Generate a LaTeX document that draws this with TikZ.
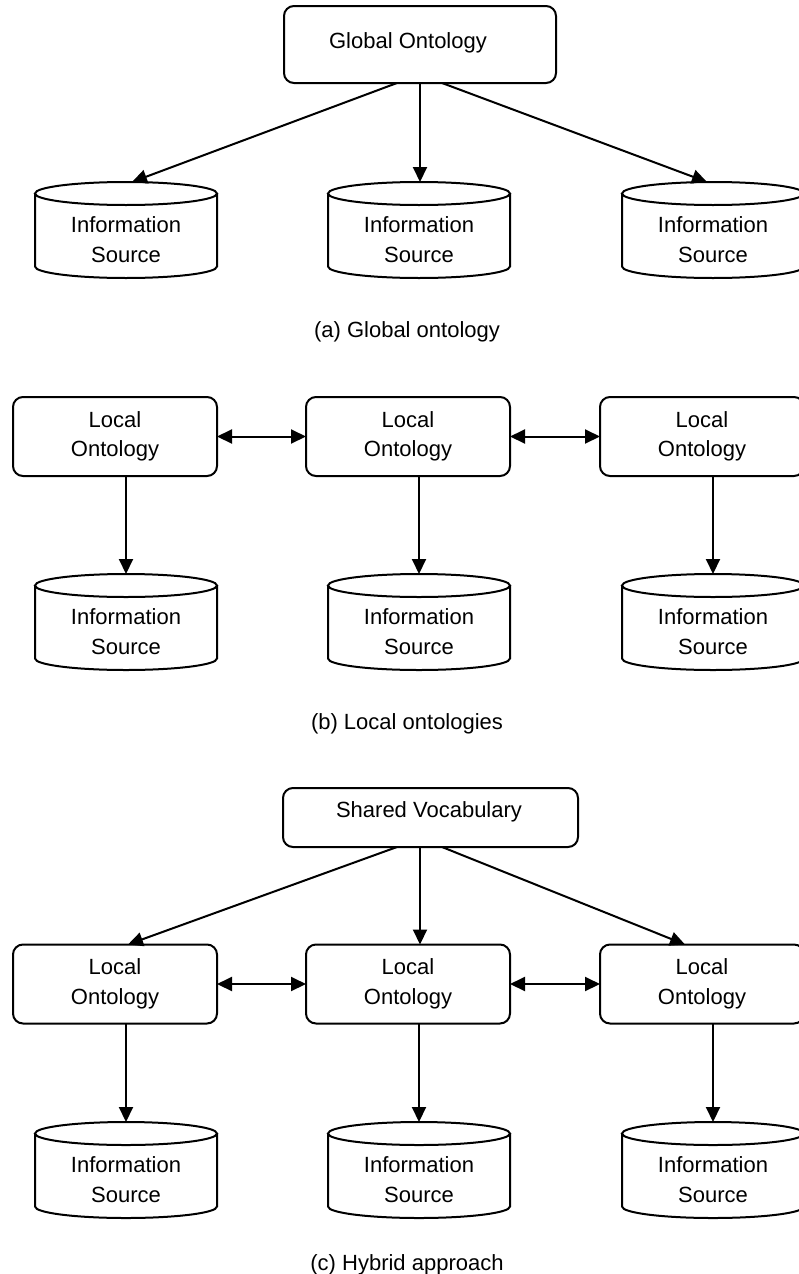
\documentclass[tikz,border=0pt]{standalone}
\usepackage{fontspec}
\setmainfont{Liberation Sans}
\usetikzlibrary{arrows.meta,calc}

% Information source drawn as a cylinder: #1 name, #2 centre x, #3 top y
\newcommand\infosource[3]{%
  \node[srcbox] (#1) at (#2,#3+48) {};
  \node[srctext] (#1t) at (#2,#3+57.5) {Information\\Source};
  \draw[outline] (#2-91,#3+11.5) -- (#2-91,#3+84.5)
    arc[start angle=180,end angle=0,x radius=91,y radius=11.5]
    -- (#2+91,#3+11.5);
  \draw[outline] (#2,#3+11.5) ellipse[x radius=91,y radius=11.5];
}

\begin{document}
\begin{tikzpicture}[x=1pt,y=-1pt,
  every node/.style={font=\fontsize{22}{29.5}\selectfont, inner sep=0pt, outer sep=0pt},
  outline/.style={line width=2pt},
  obox/.style={draw, line width=2pt, rounded corners=10pt, align=center},
  localbox/.style={obox, minimum width=204pt, minimum height=79pt},
  srcbox/.style={minimum width=182pt, minimum height=96pt},
  srctext/.style={align=center},
  arr/.style={line width=2pt, -{Triangle[length=15pt,width=14pt]}},
  darr/.style={line width=2pt, {Triangle[length=15pt,width=14pt]}-{Triangle[length=15pt,width=14pt]}},
]
\useasboundingbox (0,0) rectangle (799,1274);
\clip (0,0) rectangle (799,1274);

% ---------------- (a) Global ontology ----------------
\node[obox, minimum width=272pt, minimum height=77pt] (go) at (420,44.5) {};
\node (got) at (408,43) {Global Ontology};
\infosource{a1}{126}{182}
\infosource{a2}{419}{182}
\infosource{a3}{713}{182}
\draw[arr] ($(go.south)+(-23,0)$) -- ($(a1.north)+(6,0)$);
\draw[arr] (go.south) -- (go.south |- a2.north);
\draw[arr] ($(go.south)+(22,0)$) -- ($(a3.north)+(-6,0)$);
\node (capa) at (407,332) {(a) Global ontology};

% ---------------- (b) Local ontologies ----------------
\node[localbox] (lb1) at (115,436.5) {Local\\Ontology};
\node[localbox] (lb2) at (408,436.5) {Local\\Ontology};
\node[localbox] (lb3) at (702,436.5) {Local\\Ontology};
\draw[darr] (lb1.east) -- (lb2.west);
\draw[darr] (lb2.east) -- (lb3.west);
\infosource{b1}{126}{574}
\infosource{b2}{419}{574}
\infosource{b3}{713}{574}
\draw[arr] (lb1.south -| b1.north) -- (b1.north);
\draw[arr] (lb2.south -| b2.north) -- (b2.north);
\draw[arr] (lb3.south -| b3.north) -- (b3.north);
\node (capb) at (407,724) {(b) Local ontologies};

% ---------------- (c) Hybrid approach ----------------
\node[obox, minimum width=295pt, minimum height=59pt] (sv) at (430.5,817.5) {};
\node (svt) at (429,812) {Shared Vocabulary};
\node[localbox] (lc1) at (115,984) {Local\\Ontology};
\node[localbox] (lc2) at (408,984) {Local\\Ontology};
\node[localbox] (lc3) at (702,984) {Local\\Ontology};
\draw[arr] ($(sv.south)+(-33.5,0)$) -- ($(lc1.north)+(13,0)$);
\draw[arr] ($(sv.south)+(-10.5,0)$) -- ($(lc2.north)+(12,0)$);
\draw[arr] ($(sv.south)+(11.5,0)$) -- ($(lc3.north)+(-17,0)$);
\draw[darr] (lc1.east) -- (lc2.west);
\draw[darr] (lc2.east) -- (lc3.west);
\infosource{c1}{126}{1122}
\infosource{c2}{419}{1122}
\infosource{c3}{713}{1122}
\draw[arr] (lc1.south -| c1.north) -- (c1.north);
\draw[arr] (lc2.south -| c2.north) -- (c2.north);
\draw[arr] (lc3.south -| c3.north) -- (c3.north);
\node (capc) at (407,1265) {(c) Hybrid approach};
\end{tikzpicture}
\end{document}
